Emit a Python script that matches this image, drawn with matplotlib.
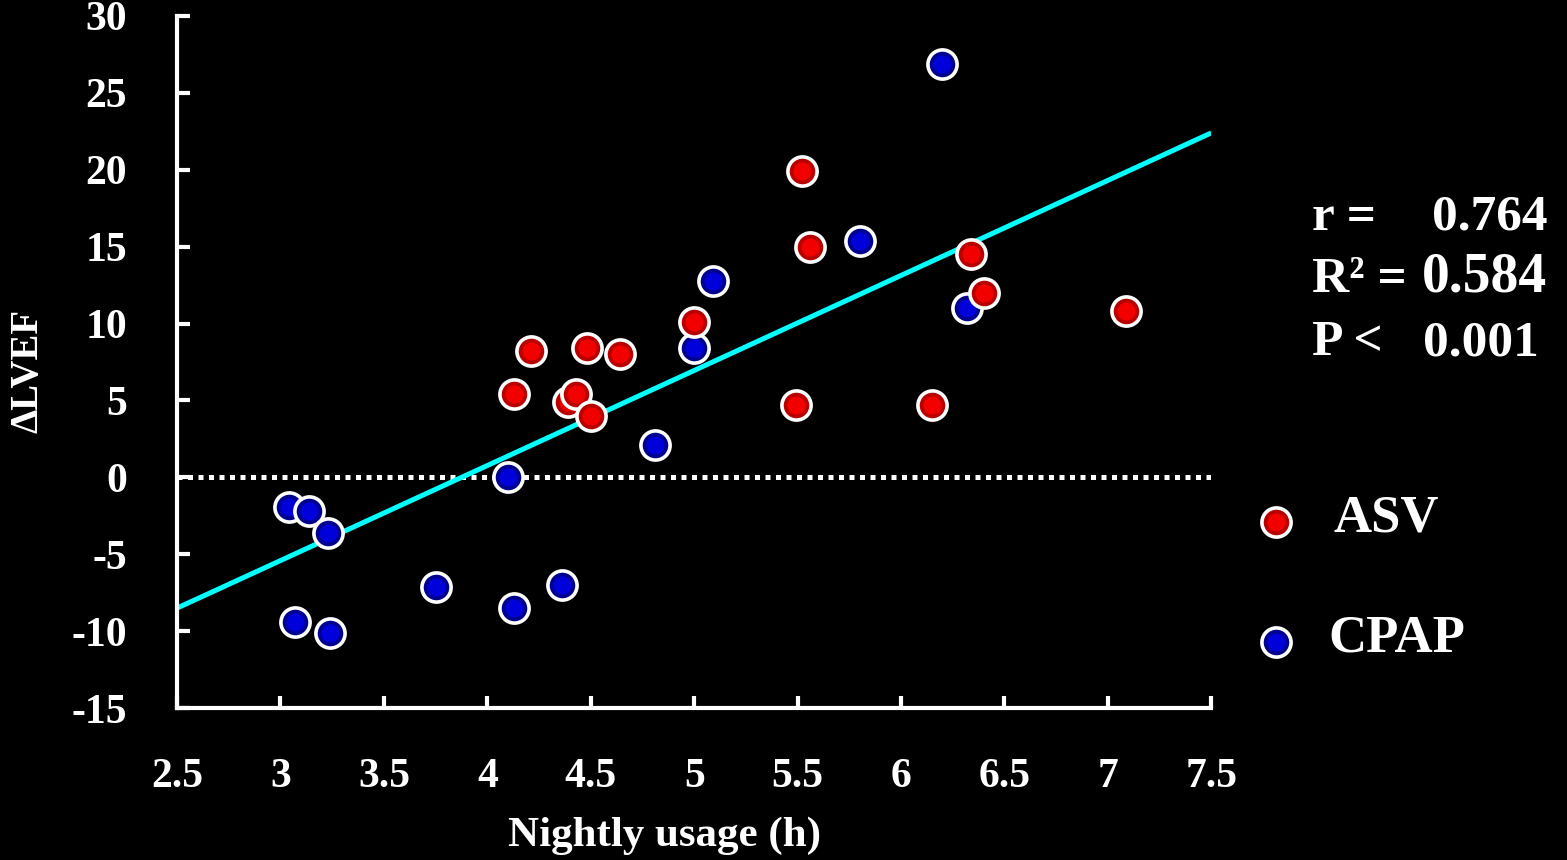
import numpy as np
import matplotlib
matplotlib.use('Agg')
import matplotlib.pyplot as plt

# change in LVEF vs nightly device usage, per patient
asv_usage = [5.52, 5.56, 6.34, 6.40, 7.09, 5.00, 4.21, 4.48, 4.64, 4.13, 4.39, 4.43, 4.50, 5.49, 6.15]
asv_dlvef = [19.9, 15.0, 14.5, 12.0, 10.8, 10.1, 8.2, 8.4, 8.0, 5.4, 4.9, 5.4, 4.0, 4.7, 4.7]
cpap_usage = [6.20, 5.80, 5.09, 6.32, 5.00, 4.81, 4.10, 3.04, 3.14, 3.23, 3.75, 4.36, 4.13, 3.07, 3.24]
cpap_dlvef = [26.9, 15.4, 12.8, 11.0, 8.4, 2.1, 0.0, -1.9, -2.2, -3.6, -7.1, -7.0, -8.5, -9.4, -10.1]

# regression line end points
fit_x = [2.5, 7.5]
fit_y = [-8.5, 22.4]

stat_names = ['r =', 'R² =', 'P <']
stat_values = ['0.764', '0.584', '0.001']

x_ticks = [2.5, 3, 3.5, 4, 4.5, 5, 5.5, 6, 6.5, 7, 7.5]
x_ticklabels = ['2.5', '3', '3.5', '4', '4.5', '5', '5.5', '6', '6.5', '7', '7.5']
y_ticks = [-15, -10, -5, 0, 5, 10, 15, 20, 25, 30]
y_ticklabels = ['-15', '-10', '-5', '0', '5', '10', '15', '20', '25', '30']

plt.rcParams['font.family'] = ['Liberation Serif', 'DejaVu Serif']
plt.rcParams['font.weight'] = 'bold'

fig = plt.figure(figsize=(15.67, 8.6), dpi=100, facecolor='black')
ax = fig.add_axes([0.113, 0.1767, 0.660, 0.8047], facecolor='black')

ax.set_xlim(2.5, 7.5)
ax.set_ylim(-15, 30)

# zero line and fit
ax.axhline(0, color='white', lw=3.6, ls=(0, (1, 1.1)), zorder=1)
ax.plot(fit_x, fit_y, color='#00FFFF', lw=3.6, zorder=2, solid_capstyle='butt')

red_dark, red_light = '#B80000', '#F20000'
blue_dark, blue_light = '#00008E', '#0000DA'


def dot(axis, x, y, dark, light, z, **kw):
    # shaded ball: darker rim with white ring, brighter core
    axis.plot(x, y, 'o', ms=21, mfc=dark, mec='white', mew=2.6, zorder=z, **kw)
    axis.plot(x, y, 'o', ms=13, mfc=light, mec='none', zorder=z + 0.5, **kw)


z = 3
for x, y in zip(cpap_usage, cpap_dlvef):
    dot(ax, x, y, blue_dark, blue_light, z)
    z += 1
for x, y in zip(asv_usage, asv_dlvef):
    dot(ax, x, y, red_dark, red_light, z)
    z += 1

for side in ['top', 'right']:
    ax.spines[side].set_visible(False)
for side in ['left', 'bottom']:
    ax.spines[side].set_color('white')
    ax.spines[side].set_linewidth(3)

ax.set_xticks(x_ticks)
ax.set_xticklabels(x_ticklabels)
ax.set_yticks(y_ticks)
ax.set_yticklabels(y_ticklabels)
ax.tick_params(direction='in', length=9, width=3, color='white',
               labelcolor='white', labelsize=30)
ax.tick_params(axis='x', pad=36)
ax.tick_params(axis='y', pad=36)

fig.text(665 / 1567, 1 - 836 / 860, 'Nightly usage (h)', color='white',
         fontsize=31, ha='center', va='center')
fig.text(28 / 1567, 1 - 371 / 860, 'ΔLVEF', color='white', fontsize=28,
         ha='center', va='center', rotation=90)

# statistics block
name_y = [230, 292, 355]
value_x = [1432, 1422, 1423]
value_size = [37, 40, 37]
for name, val, py, vx, fs in zip(stat_names, stat_values, name_y, value_x, value_size):
    fig.text(1312 / 1567, 1 - py / 860, name, color='white', fontsize=37,
             ha='left', va='baseline')
    fig.text(vx / 1567, 1 - py / 860, val, color='white', fontsize=fs,
             ha='left', va='baseline')

# legend
for lab, ly, dk, lt, tx in [('ASV', 522, red_dark, red_light, 1333),
                            ('CPAP', 642, blue_dark, blue_light, 1328)]:
    dot(ax, 1276 / 1567, 1 - ly / 860, dk, lt, 50,
        transform=fig.transFigure, clip_on=False)
    fig.text(tx / 1567, 1 - (ly - 4) / 860, lab, color='white', fontsize=38,
             ha='left', va='center')

fig.savefig('out.png', dpi=100, facecolor='black')
